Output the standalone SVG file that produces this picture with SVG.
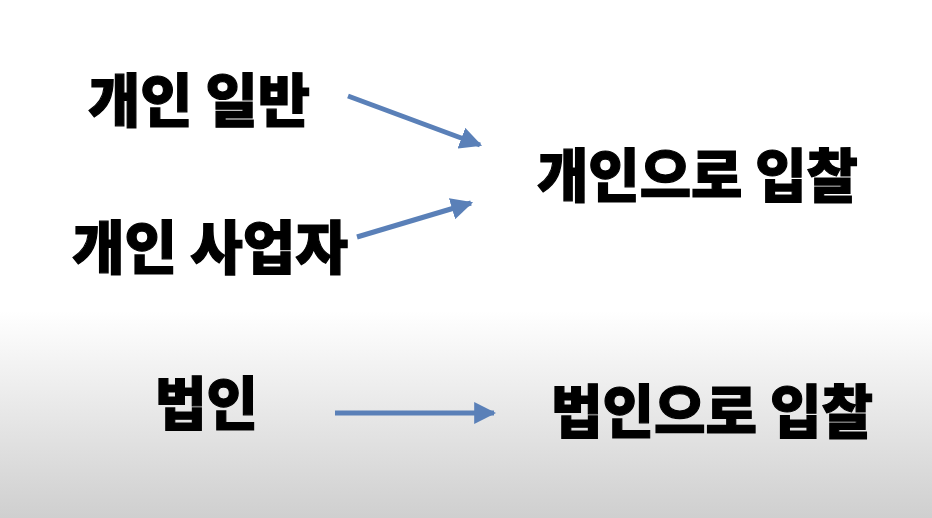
<svg xmlns="http://www.w3.org/2000/svg" width="932" height="518" viewBox="0 0 932 518">
<defs>
<linearGradient id="bg" x1="0" y1="0" x2="0" y2="1">
<stop offset="0" stop-color="#ffffff"/>
<stop offset="0.6" stop-color="#ffffff"/>
<stop offset="1" stop-color="#cfcfcf"/>
</linearGradient>
<marker id="ah" viewBox="0 0 10 10" refX="9" refY="5" markerWidth="4.4" markerHeight="4.4" orient="auto" markerUnits="strokeWidth">
<path d="M0,0 L10,5 L0,10 Z" fill="#5a80b8"/>
</marker>
<style>
.t{font-family:"Noto Sans CJK KR","Noto Sans",sans-serif;font-weight:900;font-size:58px;fill:#000;stroke:#000;stroke-width:1.2}
.c{stroke:#5a80b8;stroke-width:5;fill:none;marker-end:url(#ah)}
</style>
</defs>
<rect width="932" height="518" fill="url(#bg)"/>
<g id="connectors">
<line class="c" x1="348" y1="96" x2="480" y2="145"/>
<line class="c" x1="357" y1="237" x2="471" y2="203"/>
<line class="c" x1="335" y1="413" x2="494" y2="413"/>
</g>
<g id="n1"><text class="t" x="88" y="122" textLength="222" lengthAdjust="spacingAndGlyphs">개인 일반</text></g>
<g id="n2"><text class="t" x="72" y="269" textLength="276" lengthAdjust="spacingAndGlyphs">개인 사업자</text></g>
<g id="n3"><text class="t" x="537" y="197" textLength="321" lengthAdjust="spacingAndGlyphs">개인으로 입찰</text></g>
<g id="n4"><text class="t" x="155" y="425" textLength="103" lengthAdjust="spacingAndGlyphs">법인</text></g>
<g id="n5"><text class="t" x="551" y="433" textLength="322" lengthAdjust="spacingAndGlyphs">법인으로 입찰</text></g>
</svg>
